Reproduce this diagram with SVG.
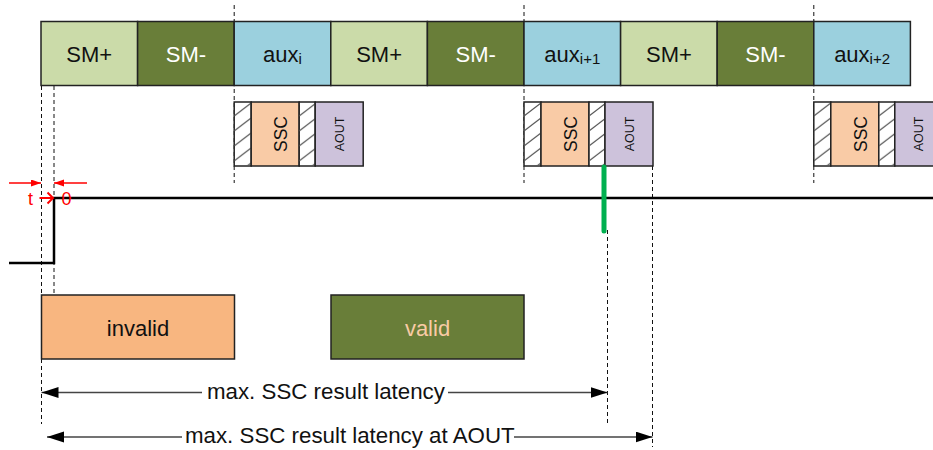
<svg xmlns="http://www.w3.org/2000/svg" width="933" height="450" viewBox="0 0 933 450">
<style>
text{font-family:"Liberation Sans",Arial,sans-serif;fill:#111}
.lbl{font-size:22px;text-anchor:middle}
.sub{font-size:15px}
.box{stroke:#222;stroke-width:1.5}
.smp{fill:#CBDBA9}
.smm{fill:#697E39}
.aux{fill:#9BD0DE}
.ssc{fill:#F9CBA6}
.aout{fill:#CDC2DB}
.hat{fill:url(#hatch)}
.hb{fill:#fff}
.dash{stroke:#111;stroke-width:1;stroke-dasharray:4 3;fill:none}
.dim{stroke:#444;stroke-width:1.3;fill:none}
.red{stroke:#FF0000;stroke-width:1.5;fill:none}
</style>
<defs>
<pattern id="hatch" patternUnits="objectBoundingBox" x="0" y="0" width="1" height="0.234">
<line x1="0" y1="14" x2="17" y2="1" stroke="#555" stroke-width="1.2"/>
</pattern>
<marker id="ah" markerUnits="userSpaceOnUse" markerWidth="19" markerHeight="12" refX="17" refY="5.5" orient="auto-start-reverse">
<path d="M0,0 L17,5.5 L0,11 z" fill="#000"/>
</marker>
<marker id="rh" markerUnits="userSpaceOnUse" markerWidth="11" markerHeight="8" refX="10" refY="3.5" orient="auto-start-reverse">
<path d="M0,0 L10,3.5 L0,7 z" fill="#FF0000"/>
</marker>
</defs>

<g id="guides">
<line class="dash" x1="234.2" y1="5" x2="234.2" y2="183"/>
<line class="dash" x1="524" y1="5" x2="524" y2="183"/>
<line class="dash" x1="813.8" y1="5" x2="813.8" y2="183"/>
<line class="dash" x1="41.5" y1="86" x2="41.5" y2="424"/>
<line class="dash" x1="54" y1="86" x2="54" y2="295"/>
<line class="dash" x1="607.5" y1="230" x2="607.5" y2="424"/>
<line class="dash" x1="652.5" y1="166" x2="652.5" y2="447"/>
</g>

<g id="row-top">
<g id="n-smp1"><rect class="box smp" x="41" y="21.5" width="96.6" height="64"/><text class="lbl" x="89.3" y="61.5">SM+</text></g>
<g id="n-smm1"><rect class="box smm" x="137.6" y="21.5" width="96.6" height="64"/><text class="lbl" x="185.9" y="61.5" style="fill:#fff">SM-</text></g>
<g id="n-aux1"><rect class="box aux" x="234.2" y="21.5" width="96.6" height="64"/><text class="lbl" x="282.5" y="61.5">aux<tspan class="sub" dy="2">i</tspan></text></g>
<g id="n-smp2"><rect class="box smp" x="330.8" y="21.5" width="96.6" height="64"/><text class="lbl" x="379.1" y="61.5">SM+</text></g>
<g id="n-smm2"><rect class="box smm" x="427.4" y="21.5" width="96.6" height="64"/><text class="lbl" x="475.7" y="61.5" style="fill:#fff">SM-</text></g>
<g id="n-aux2"><rect class="box aux" x="524" y="21.5" width="96.6" height="64"/><text class="lbl" x="572.3" y="61.5">aux<tspan class="sub" dy="2">i+1</tspan></text></g>
<g id="n-smp3"><rect class="box smp" x="620.6" y="21.5" width="96.6" height="64"/><text class="lbl" x="668.9" y="61.5">SM+</text></g>
<g id="n-smm3"><rect class="box smm" x="717.2" y="21.5" width="96.6" height="64"/><text class="lbl" x="765.5" y="61.5" style="fill:#fff">SM-</text></g>
<g id="n-aux3"><rect class="box aux" x="813.8" y="21.5" width="96.6" height="64"/><text class="lbl" x="862.1" y="61.5">aux<tspan class="sub" dy="2">i+2</tspan></text></g>
</g>

<g id="n-block1">
<rect class="box hb" x="234.2" y="102" width="17" height="64"/><rect class="hat" x="234.2" y="102" width="17" height="64"/>
<rect class="box ssc" x="251.2" y="102" width="48" height="64"/>
<rect class="box hb" x="299.2" y="102" width="16" height="64"/><rect class="hat" x="299.2" y="102" width="16" height="64"/>
<rect class="box aout" x="315.2" y="102" width="48" height="64"/>
<text transform="translate(281,134) rotate(-90)" style="font-size:17.5px;text-anchor:middle" y="6">SSC</text>
<text transform="translate(339,134) rotate(-90)" style="font-size:12.5px;text-anchor:middle" y="4.5">AOUT</text>
</g>
<g id="n-block2">
<rect class="box hb" x="524" y="102" width="17" height="64"/><rect class="hat" x="524" y="102" width="17" height="64"/>
<rect class="box ssc" x="541" y="102" width="48" height="64"/>
<rect class="box hb" x="589" y="102" width="16" height="64"/><rect class="hat" x="589" y="102" width="16" height="64"/>
<rect class="box aout" x="605" y="102" width="48" height="64"/>
<text transform="translate(571,134) rotate(-90)" style="font-size:17.5px;text-anchor:middle" y="6">SSC</text>
<text transform="translate(629,134) rotate(-90)" style="font-size:12.5px;text-anchor:middle" y="4.5">AOUT</text>
</g>
<g id="n-block3">
<rect class="box hb" x="813.8" y="102" width="17" height="64"/><rect class="hat" x="813.8" y="102" width="17" height="64"/>
<rect class="box ssc" x="830.8" y="102" width="48" height="64"/>
<rect class="box hb" x="878.8" y="102" width="16" height="64"/><rect class="hat" x="878.8" y="102" width="16" height="64"/>
<rect class="box aout" x="894.8" y="102" width="48" height="64"/>
<text transform="translate(860.8,134) rotate(-90)" style="font-size:17.5px;text-anchor:middle" y="6">SSC</text>
<text transform="translate(918.8,134) rotate(-90)" style="font-size:12.5px;text-anchor:middle" y="4.5">AOUT</text>
</g>

<g id="n-invalid"><rect class="box" fill="#F8B680" x="41.5" y="295" width="193" height="64"/><text class="lbl" x="138" y="335.5">invalid</text></g>
<g id="n-valid"><rect class="box smm" x="331" y="295" width="193" height="64"/><text class="lbl" x="427.5" y="335.5" style="fill:#F8CBA5">valid</text></g>

<g id="connectors">
<polyline points="9,263 54,263 54,198 933,198" fill="none" stroke="#000" stroke-width="2.5"/>
<line x1="604" y1="167" x2="604" y2="231" stroke="#00B050" stroke-width="5" stroke-linecap="round"/>
<line class="red" x1="9" y1="183" x2="41" y2="183" marker-end="url(#rh)"/>
<line class="red" x1="87" y1="183" x2="54" y2="183" marker-end="url(#rh)"/>
<line x1="39.5" y1="198" x2="53" y2="198" stroke="#FF0000" stroke-width="2"/>
<polyline points="47.5,192.5 53,198 47.5,203.5" fill="none" stroke="#FF0000" stroke-width="2"/>
<text x="28" y="205" style="font-size:18px;fill:#FF0000">t</text>
<text x="61.5" y="205" style="font-size:18px;fill:#FF0000">0</text>
<line class="dim" x1="41.5" y1="392.5" x2="202" y2="392.5" marker-start="url(#ah)"/>
<line class="dim" x1="448" y1="392.5" x2="607.5" y2="392.5" marker-end="url(#ah)"/>
<line class="dim" x1="47" y1="437" x2="182" y2="437" marker-start="url(#ah)"/>
<line class="dim" x1="514" y1="437" x2="652.5" y2="437" marker-end="url(#ah)"/>
<text x="207" y="398.5" style="font-size:22.3px">max. SSC result latency</text>
<text x="185" y="443" style="font-size:22.3px">max. SSC result latency at AOUT</text>
</g>
</svg>
